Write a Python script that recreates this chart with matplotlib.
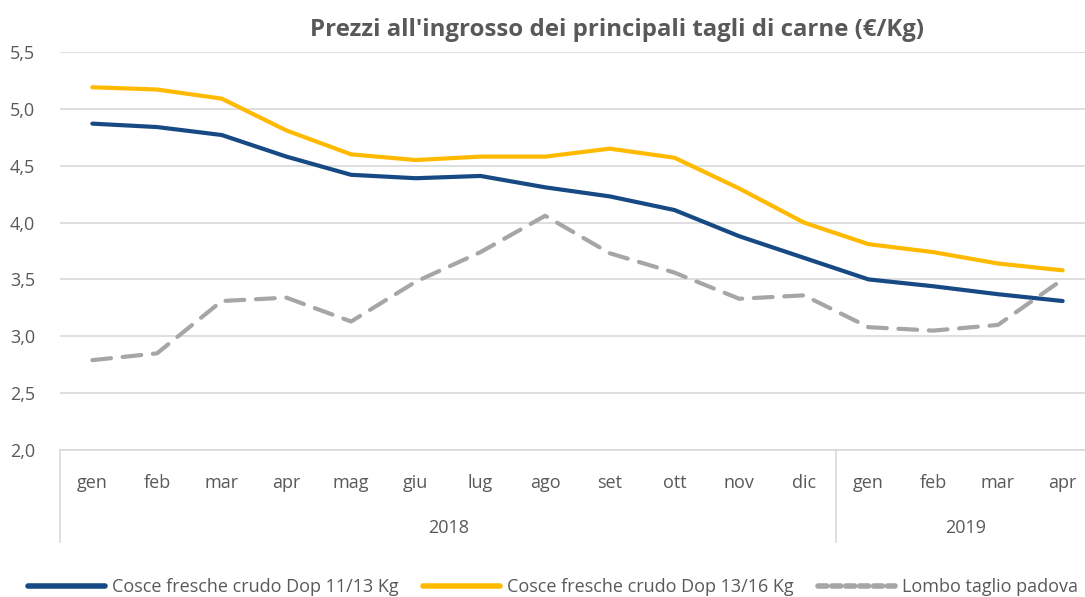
import matplotlib
matplotlib.use("Agg")
import matplotlib.pyplot as plt
from matplotlib.lines import Line2D
import matplotlib.transforms as mtransforms

months = ["gen", "feb", "mar", "apr", "mag", "giu", "lug", "ago", "set", "ott", "nov", "dic",
          "gen", "feb", "mar", "apr"]
years = ["2018", "2019"]
year_counts = [12, 4]

cosce_11_13 = [4.87, 4.84, 4.77, 4.58, 4.42, 4.39, 4.41, 4.31, 4.23, 4.11, 3.88, 3.69,
               3.50, 3.44, 3.37, 3.31]
cosce_13_16 = [5.19, 5.17, 5.09, 4.81, 4.60, 4.55, 4.58, 4.58, 4.65, 4.57, 4.30, 4.00,
               3.81, 3.74, 3.64, 3.58]
lombo = [2.79, 2.85, 3.31, 3.34, 3.13, 3.48, 3.74, 4.06, 3.73, 3.56, 3.33, 3.36,
         3.08, 3.05, 3.10, 3.50]

series_names = ["Cosce fresche crudo Dop 11/13 Kg", "Cosce fresche crudo Dop 13/16 Kg",
                "Lombo taglio padova"]
yticks = [2.0, 2.5, 3.0, 3.5, 4.0, 4.5, 5.0, 5.5]

FONT = "Open Sans"
TXT = "#595959"
BLUE = "#174A84"
YEL = "#FFBA00"
GREY = "#A6A6A6"
FS = 13

fig = plt.figure(figsize=(10.85, 5.97), dpi=100)
ax = fig.add_axes([60 / 1085, 1 - 450 / 597, (1095 - 60) / 1085, (450 - 52) / 597])

x = list(range(len(months)))
ax.plot(x, cosce_11_13, color=BLUE, lw=3.0, solid_capstyle="round", solid_joinstyle="round", zorder=3)
ax.plot(x, cosce_13_16, color=YEL, lw=3.0, solid_capstyle="round", solid_joinstyle="round", zorder=3)
ax.plot(x, lombo, color=GREY, lw=3.0, dashes=(4.5, 2.8), dash_capstyle="round",
        dash_joinstyle="round", zorder=3)

ax.set_xlim(-0.5, len(months) - 0.5)
ax.set_ylim(2.0, 5.5)
ax.set_yticks(yticks)
ax.set_yticklabels([f"{v:.1f}".replace(".", ",") for v in yticks], fontsize=FS,
                   color=TXT, family=FONT)
ax.grid(axis="y", color="#D9D9D9", lw=1.2)
ax.set_axisbelow(True)
for s in ["top", "right", "left"]:
    ax.spines[s].set_visible(False)
ax.spines["bottom"].set_color("#D9D9D9")
ax.spines["bottom"].set_linewidth(1.2)
ax.tick_params(axis="y", length=0, pad=18)
ax.tick_params(axis="x", length=0, pad=17)
ax.set_xticks(x)
ax.set_xticklabels(months, fontsize=FS, color=TXT, family=FONT)

# two-level category axis
trans = mtransforms.blended_transform_factory(ax.transData, ax.transAxes)
sep_bottom = -(542 - 450) / (450 - 52)
start = 0
bounds = [-0.5]
for name, n in zip(years, year_counts):
    center = start + (n - 1) / 2
    ax.text(center, -(528 - 450) / (450 - 52), name, transform=trans, ha="center", va="center",
            fontsize=FS, color=TXT, family=FONT)
    start += n
    bounds.append(start - 0.5)
for b in bounds[:-1]:
    ax.add_line(Line2D([b, b], [0, sep_bottom], transform=trans, color="#D9D9D9", lw=1.2,
                       clip_on=False))

fig.text(617 / 1085, 1 - 30 / 597, "Prezzi all'ingrosso dei principali tagli di carne (€/Kg)",
         ha="center", va="center", fontsize=17.3, fontweight="bold", color=TXT, family=FONT)

handles = [
    Line2D([], [], color=BLUE, lw=4, solid_capstyle="round"),
    Line2D([], [], color=YEL, lw=4, solid_capstyle="round"),
    Line2D([], [], color=GREY, lw=4, dashes=(1.6, 0.9), dash_capstyle="round"),
]
leg = fig.legend(handles, series_names, loc="center", bbox_to_anchor=(553 / 1085, 1 - 587 / 597),
                 ncol=3, frameon=False, handlelength=4.3, handletextpad=0.4, columnspacing=1.3,
                 prop={"family": FONT, "size": FS})
for t in leg.get_texts():
    t.set_color(TXT)

fig.savefig("out.png", dpi=100, facecolor="white")
